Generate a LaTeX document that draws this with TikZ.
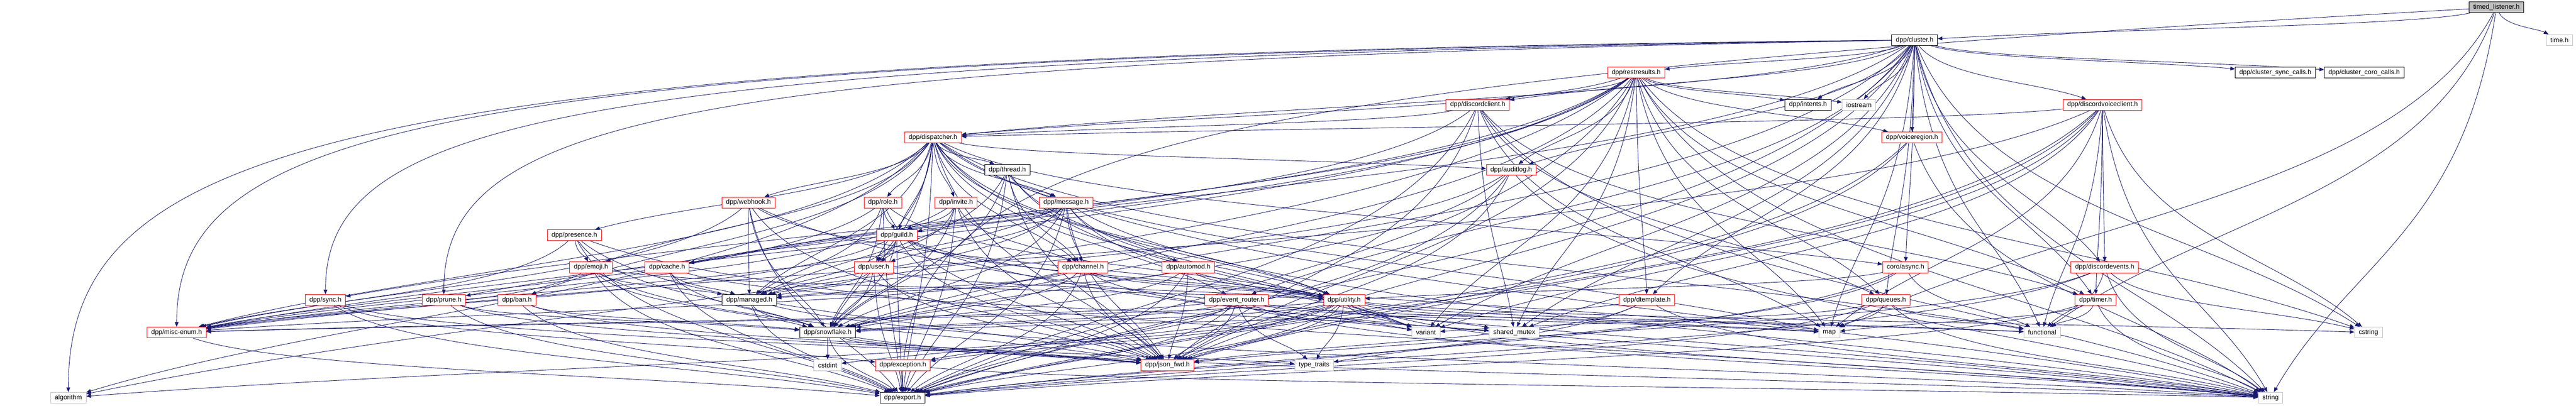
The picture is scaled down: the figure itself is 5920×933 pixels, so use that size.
\documentclass[tikz,border=0pt]{standalone}
\usepackage{fontspec}
\setmainfont{Liberation Sans}
\usepackage{tikz}
\usetikzlibrary{arrows.meta,calc,backgrounds}

\definecolor{edgeblue}{RGB}{25,25,112}
\definecolor{sysgrey}{RGB}{191,191,191}

\tikzset{
  hdr/.style={draw=red, fill=white, line width=0.75pt, inner xsep=7.1pt, inner ysep=0pt,
    minimum height=18.75pt, font=\fontsize{11.4}{13}\selectfont},
  fullhdr/.style={hdr, draw=black},
  syshdr/.style={hdr, draw=sysgrey},
  roothdr/.style={hdr, draw=black, fill=sysgrey},
  dep/.style={draw=edgeblue, line width=0.8pt, -{Triangle[length=8pt,width=6.5pt]},
    to path={.. controls ($(\tikztostart)!0.5!(\tikztostart|-\tikztotarget)!0.15!(\tikztotarget)$)
      and ($(\tikztotarget)!0.35!(\tikztostart)$) .. (\tikztotarget) \tikztonodes}},
  % long edges that run along a row and then drop down
  fardep/.style={dep,
    to path={.. controls ($(\tikztostart|-0,#1)!0.85!(\tikztotarget|-0,#1)$)
      and ($(\tikztotarget)!0.75!(\tikztotarget|-0,#1)$) .. (\tikztotarget) \tikztonodes}},
}

\begin{document}
\begin{tikzpicture}[x=0.75pt, y=-0.75pt]

  \useasboundingbox (0,0) rectangle (5920,933);

  % Draw the headers, row by row
  \node[roothdr] (tl) at (5737,17) {timed\_listener.h};

  \node[fullhdr] (cl) at (4400,92) {dpp/cluster.h};
  \node[syshdr] (timeh) at (5882,92) {time.h};

  \node[hdr] (rr) at (3760,167) {dpp/restresults.h};
  \node[fullhdr] (csc) at (5229,167) {dpp/cluster\_sync\_calls.h};
  \node[fullhdr] (ccc) at (5433,167) {dpp/cluster\_coro\_calls.h};

  \node[hdr] (dc) at (3396,241) {dpp/discordclient.h};
  \node[fullhdr] (intents) at (4155,241) {dpp/intents.h};
  \node[syshdr] (iostream) at (4272,241) {iostream};
  \node[hdr] (dvc) at (4832,241) {dpp/discordvoiceclient.h};

  \node[hdr] (disp) at (2144,316) {dpp/dispatcher.h};
  \node[hdr] (vr) at (4394,316) {dpp/voiceregion.h};

  \node[fullhdr] (thread) at (2315,391) {dpp/thread.h};
  \node[hdr] (audit) at (3473,391) {dpp/auditlog.h};

  \node[hdr] (webhook) at (1720,466) {dpp/webhook.h};
  \node[hdr] (role) at (2029,466) {dpp/role.h};
  \node[hdr] (invite) at (2197,466) {dpp/invite.h};
  \node[hdr] (message) at (2450,466) {dpp/message.h};

  \node[hdr] (presence) at (1320,541) {dpp/presence.h};
  \node[hdr] (guild) at (2061,541) {dpp/guild.h};

  \node[hdr] (emoji) at (1358,615) {dpp/emoji.h};
  \node[hdr] (cache) at (1533,615) {dpp/cache.h};
  \node[hdr] (user) at (2008,615) {dpp/user.h};
  \node[hdr] (channel) at (2489,615) {dpp/channel.h};
  \node[hdr] (automod) at (2731,615) {dpp/automod.h};
  \node[hdr] (async) at (4379,615) {coro/async.h};
  \node[hdr] (devents) at (4837,615) {dpp/discordevents.h};

  \node[hdr] (sync) at (748,690) {dpp/sync.h};
  \node[hdr] (prune) at (1020,690) {dpp/prune.h};
  \node[hdr] (ban) at (1188,690) {dpp/ban.h};
  \node[fullhdr] (managed) at (1722,690) {dpp/managed.h};
  \node[hdr] (erouter) at (2842,690) {dpp/event\_router.h};
  \node[hdr] (utility) at (3089,690) {dpp/utility.h};
  \node[hdr] (dtemplate) at (3785,690) {dpp/dtemplate.h};
  \node[hdr] (queues) at (4334,690) {dpp/queues.h};
  \node[hdr] (timer) at (4816,690) {dpp/timer.h};

  \node[hdr] (misc) at (406,765) {dpp/misc-enum.h};
  \node[fullhdr] (snowflake) at (1902,765) {dpp/snowflake.h};
  \node[syshdr] (variant) at (3277,765) {variant};
  \node[syshdr] (smutex) at (3480,765) {shared\_mutex};
  \node[syshdr] (map) at (4204,765) {map};
  \node[syshdr] (functional) at (4693,765) {functional};
  \node[syshdr] (cstring) at (5443,765) {cstring};

  \node[hdr] (exception) at (2075,840) {dpp/exception.h};
  \node[syshdr] (cstdint) at (1902,840) {cstdint};
  \node[hdr] (jsonfwd) at (2683,840) {dpp/json\_fwd.h};
  \node[syshdr] (typetraits) at (3020,840) {type\_traits};

  \node[fullhdr] (export) at (2074,915) {dpp/export.h};
  \node[syshdr] (algorithm) at (157,915) {algorithm};
  \node[syshdr] (string) at (5218,915) {string};

  \begin{pgfonlayer}{background}
  % Draw the long edges along the top rows
  \draw[fardep=190] (tl) to (export);
  \draw[fardep=128] (cl) to (algorithm);
  \draw[fardep=133] (cl) to (misc);
  \draw[fardep=138] (cl) to (sync);
  \draw[fardep=143] (cl) to (prune);

  % Draw the include edges of each header
  \foreach \t in {cl,timeh,map,functional,string}
    \draw[dep] (tl) to (\t);
  \foreach \t in {rr,csc,ccc,dc,intents,iostream,dvc,disp,vr,audit,async,devents,erouter,dtemplate,queues,timer,snowflake,variant,smutex,map,functional,cstring,jsonfwd,export,string,cache}
    \draw[dep] (cl) to (\t);
  \foreach \t in {dc,disp,vr,audit,dtemplate,prune,sync,misc,snowflake,jsonfwd,timer,queues,cache,intents,iostream,variant,smutex,map,cstring,algorithm,export,string}
    \draw[dep] (rr) to (\t);
  \foreach \t in {disp,cache,queues,timer,smutex,map,jsonfwd,export,string}
    \draw[dep] (dc) to (\t);
  \foreach \t in {disp,devents,timer,misc,jsonfwd,smutex,variant,functional,map,cstring,export,string}
    \draw[dep] (dvc) to (\t);
  \foreach \t in {jsonfwd,export,string}
    \draw[dep] (vr) to (\t);
  \foreach \t in {thread,role,invite,message,guild,channel,automod,user,webhook,presence,emoji,ban,audit,erouter,async,managed,utility,snowflake,misc,jsonfwd,variant,map,functional,algorithm,export,string}
    \draw[dep] (disp) to (\t);
  \foreach \t in {message,channel,managed,utility,snowflake,jsonfwd,variant,export}
    \draw[dep] (thread) to (\t);
  \foreach \t in {managed,snowflake,jsonfwd,export,string}
    \draw[dep] (audit) to (\t);
  \foreach \t in {managed,snowflake,misc,jsonfwd,utility,export,string}
    \draw[dep] (webhook) to (\t);
  \foreach \t in {guild,managed,snowflake,misc,utility,jsonfwd,export}
    \draw[dep] (role) to (\t);
  \foreach \t in {guild,user,channel,snowflake,misc,jsonfwd,export}
    \draw[dep] (invite) to (\t);
  \foreach \t in {guild,user,channel,managed,utility,snowflake,misc,jsonfwd,variant,export,string}
    \draw[dep] (message) to (\t);
  \foreach \t in {emoji,snowflake,misc,jsonfwd,export,string}
    \draw[dep] (presence) to (\t);
  \foreach \t in {user,managed,snowflake,misc,utility,jsonfwd,export,map,string}
    \draw[dep] (guild) to (\t);
  \foreach \t in {managed,snowflake,misc,utility,jsonfwd,export}
    \draw[dep] (emoji) to (\t);
  \foreach \t in {managed,snowflake,smutex,export}
    \draw[dep] (cache) to (\t);
  \foreach \t in {managed,snowflake,utility,jsonfwd,export}
    \draw[dep] (user) to (\t);
  \foreach \t in {managed,snowflake,misc,utility,jsonfwd,variant,export}
    \draw[dep] (channel) to (\t);
  \foreach \t in {managed,snowflake,utility,jsonfwd,export}
    \draw[dep] (automod) to (\t);
  \foreach \t in {utility,functional,typetraits,export}
    \draw[dep] (async) to (\t);
  \foreach \t in {functional,jsonfwd,cstring,export,string}
    \draw[dep] (devents) to (\t);
  \foreach \t in {exception,jsonfwd,export}
    \draw[dep] (sync) to (\t);
  \foreach \t in {snowflake,jsonfwd,export}
    \draw[dep] (prune) to (\t);
  \foreach \t in {snowflake,jsonfwd,export}
    \draw[dep] (ban) to (\t);
  \foreach \t in {snowflake,export,string}
    \draw[dep] (managed) to (\t);
  \foreach \t in {snowflake,misc,exception,jsonfwd,typetraits,variant,map,functional,export,string}
    \draw[dep] (erouter) to (\t);
  \foreach \t in {snowflake,misc,exception,jsonfwd,cstdint,typetraits,variant,smutex,map,functional,cstring,algorithm,export,string}
    \draw[dep] (utility) to (\t);
  \foreach \t in {snowflake,jsonfwd,export,string}
    \draw[dep] (dtemplate) to (\t);
  \foreach \t in {map,functional,variant,export,string}
    \draw[dep] (queues) to (\t);
  \foreach \t in {map,functional,export,string}
    \draw[dep] (timer) to (\t);
  \draw[dep] (misc) to (export);
  \foreach \t in {cstdint,typetraits,jsonfwd,export,string}
    \draw[dep] (snowflake) to (\t);
  \foreach \t in {export,string}
    \draw[dep] (exception) to (\t);
  \end{pgfonlayer}

\end{tikzpicture}
\end{document}
